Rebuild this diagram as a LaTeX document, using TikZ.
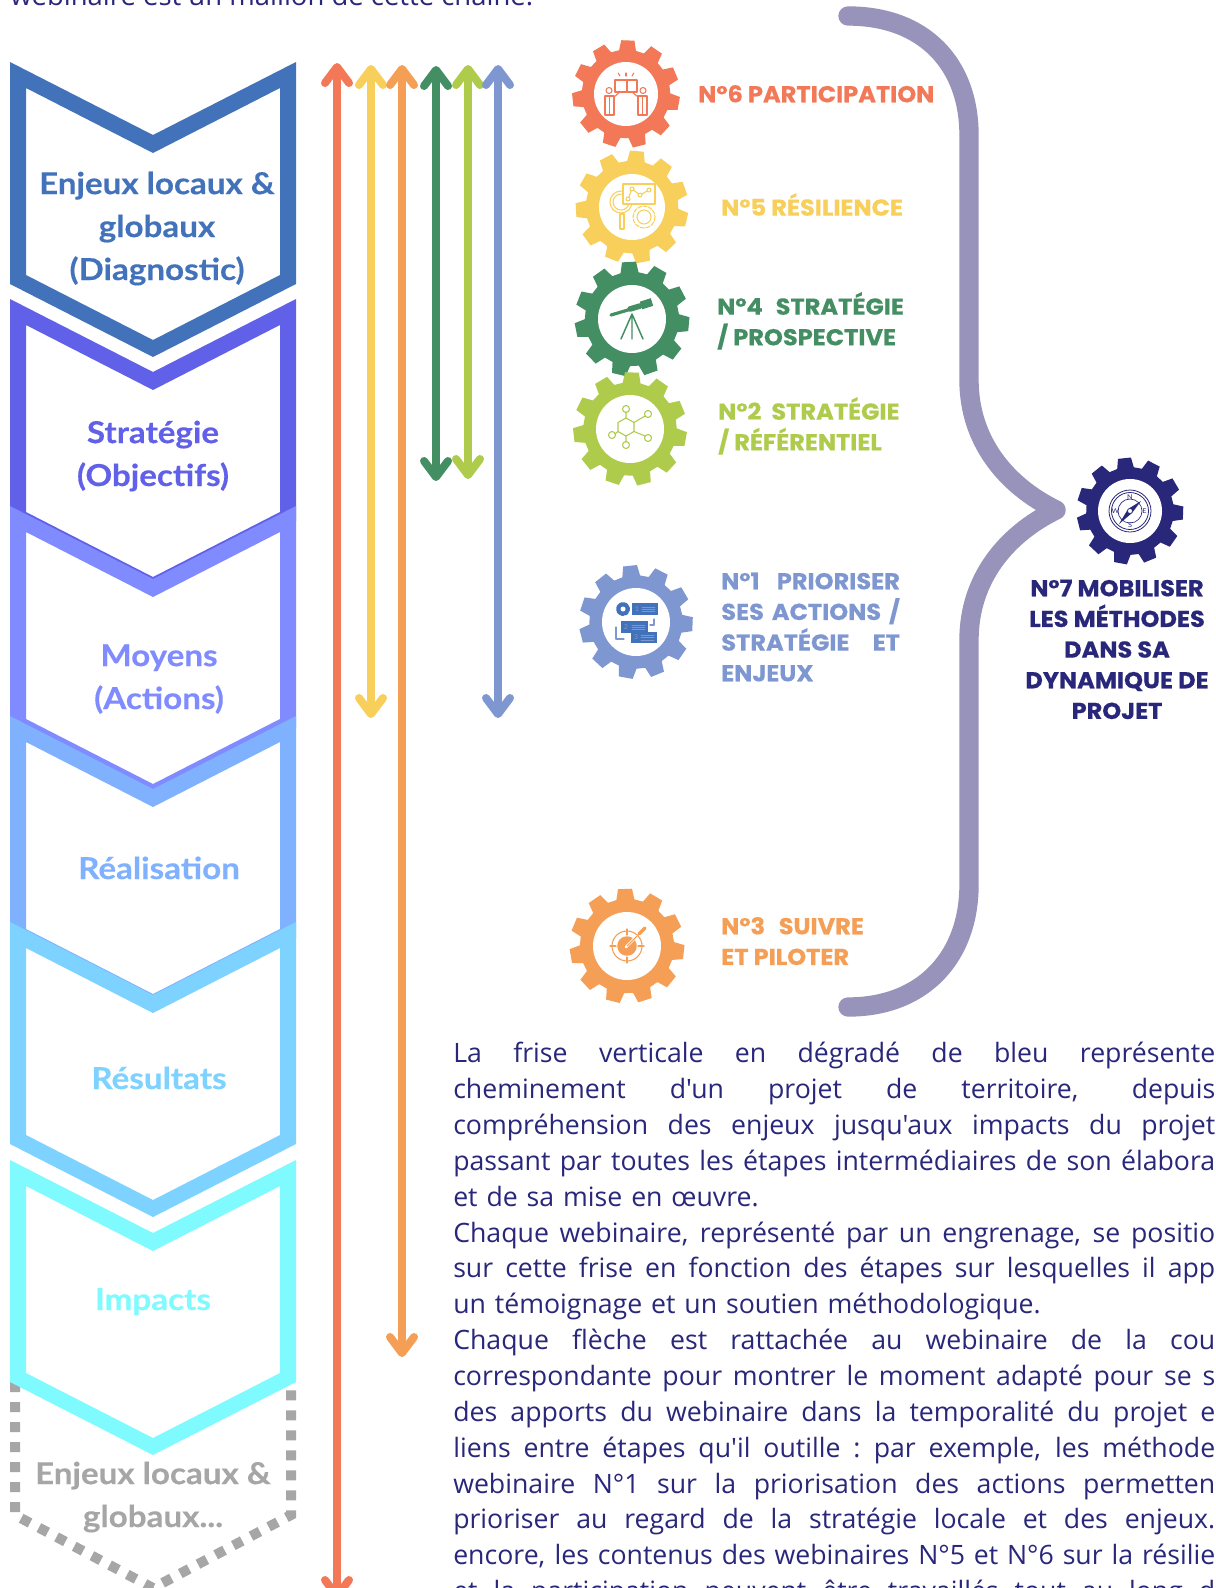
\documentclass[tikz,border=0pt]{standalone}
\usepackage{fontspec}
\setmainfont[FakeStretch=1.1,BoldFeatures={FakeBold=0.3}]{Lato}
\newfontfamily\bodyfont{Open Sans}
\newfontfamily\gearfont[FakeStretch=1.05,BoldFeatures={FakeBold=0.5}]{Poppins}
\usetikzlibrary{arrows.meta}
\definecolor{navy}{HTML}{29277A}
\definecolor{bracecol}{HTML}{9793BB}
\definecolor{rouge}{HTML}{F27858}
\definecolor{jaune}{HTML}{F8CF5B}
\definecolor{orange2}{HTML}{F59E55}
\definecolor{vert}{HTML}{448E63}
\definecolor{lime2}{HTML}{AECB4C}
\definecolor{bleu}{HTML}{7F97D0}
\definecolor{fA}{HTML}{4272BA}
\definecolor{fB}{HTML}{6160E8}
\definecolor{fC}{HTML}{7F8BFF}
\definecolor{fD}{HTML}{7FB1FF}
\definecolor{fE}{HTML}{7DD2FF}
\definecolor{fF}{HTML}{7FFBFF}
\definecolor{gris}{HTML}{A6A6A6}
\tikzset{
 fleche/.style={line width=6pt,line cap=round,{Straight Barb[round,length=12pt,width=18pt,line width=6pt]}-{Straight Barb[round,length=12pt,width=18pt,line width=6pt]}},
 etape/.style={font=\fontsize{22.6}{32.2}\selectfont\bfseries,align=center,inner sep=0pt,anchor=base},
 gearlab/.style={font=\gearfont\fontsize{17.2}{23}\selectfont\bfseries,align=left,inner sep=0pt,anchor=north west},
 hole/.style={circle,fill=white,inner sep=0pt},
 icon/.style={line width=0.8pt,line cap=round,line join=round},
 mini/.style={font=\fontsize{5}{5}\selectfont,inner sep=0pt}
}
\newcommand{\frisestep}[2]{\fill[#1,even odd rule] (10,#2) -- (153,#2+73) -- (296,#2) -- (296,#2+222) -- (153,#2+295) -- (10,#2+222) -- cycle
 (26,#2+26) -- (153,#2+91) -- (280,#2+26) -- (280,#2+213) -- (153,#2+278) -- (26,#2+213) -- cycle;}
\newcommand{\gearwheel}[7]{\fill[#7] (#2,#3) ++(-#6-11:0.82*#4) \foreach \i [evaluate=\i as \a using -#6+\i*360/11] in {0,...,10} {
 -- ([shift={(#2,#3)}]\a-11:0.82*#4) -- ([shift={(#2,#3)}]\a-7:#4) -- ([shift={(#2,#3)}]\a+7:#4) -- ([shift={(#2,#3)}]\a+11:0.82*#4)} -- cycle;
 \node[hole,minimum size=#5*1.5pt] (#1) at (#2,#3) {};}
\newcommand{\lstr}{\vrule height 15pt width 0pt}
\newcommand{\bline}[1]{\hbox to 571.5pt{\spaceskip=.26em plus 1fil minus .08em\relax #1}}
\newcommand{\nline}[1]{\hbox to 571.5pt{#1\hfil}}

\begin{document}
\begin{tikzpicture}[x=0.75pt,y=-0.75pt]
\path[use as bounding box,clip] (0,0) rectangle (1215,1588);
\fill[white] (0,0) rectangle (1215,1588);

% top line of text
\node[anchor=base west,inner sep=0pt,text=navy,font=\bodyfont\fontsize{20.6}{26.9}\selectfont] (haut) at (10,6) {webinaire est un maillon de cette chaîne.};

% frise
\draw[gris,line width=7.5pt,dash pattern=on 7.5pt off 7.5pt] (15,1382) -- (15,1515) -- (153,1588) -- (291,1515) -- (291,1382);
\frisestep{fA}{62}
\frisestep{fB}{299}
\frisestep{fC}{506}
\frisestep{fD}{716}
\frisestep{fE}{922}
\frisestep{fF}{1160}
\node[etape,text=fA] (enjeux) at (157,280) {Enjeux locaux \&\\globaux\\(Diagnostic)};
\node[etape,text=fB] (strategie) at (153,486) {Stratégie\\(Objectifs)};
\node[etape,text=fC] (moyens) at (159,709) {Moyens\\(Actions)};
\node[etape,text=fD] (realisation) at (159,879) {Réalisation};
\node[etape,text=fE] (resultats) at (159,1089) {Résultats};
\node[etape,text=fF] (impacts) at (153,1310) {Impacts};
\node[etape,text=gris] (retour) at (153,1527) {Enjeux locaux \&\\globaux...};

% fleches
\foreach \x/\ya/\yb/\c in {337/63/1600/rouge,371/65/718/jaune,402/65/1357/orange2,436/66/481/vert,468/65/479/lime2,498/65/718/bleu}{
  \coordinate (h\c) at (\x,\ya);
  \coordinate (b\c) at (\x,\yb);
  \draw[fleche,\c] (h\c) -- (b\c);
}

% accolade
\draw[bracecol,line width=14.5pt,line cap=round,line join=round] (848,16) .. controls (925,16) and (969,65) .. (969,135) -- (969,380) .. controls (969,440) and (1005,485) .. (1056,510) .. controls (1005,535) and (969,580) .. (969,640) -- (969,885) .. controls (969,955) and (925,1007) .. (848,1007);

% engrenages
\gearwheel{gsix}{626}{94}{54}{32}{88}{rouge}
\gearwheel{gcinq}{632}{207}{56.5}{33}{85}{jaune}
\gearwheel{gquatre}{632}{319}{57.5}{34}{93}{vert}
\gearwheel{gdeux}{630}{429}{57}{34}{88}{lime2}
\gearwheel{gun}{636}{622}{57}{34}{96}{bleu}
\gearwheel{gtrois}{627}{946}{57.5}{34}{92}{orange2}
\gearwheel{gsept}{1130}{511}{53.5}{32}{96}{navy}

% icones
\begin{scope}[shift={(gsix)},rouge,icon]
\draw (-11,-14) rectangle (11,-2);
\draw (1,-14) -- (1,-2);
\foreach \a in {-6,0,6}\draw (\a,-18) -- (1.3*\a,-21);
\foreach \s in {-1,1}{
 \draw (\s*17,-3.5) circle (3);
 \draw (\s*21,2) rectangle (\s*12,21);
 \draw (\s*16.5,2) -- (\s*16.5,21);
 \draw (\s*12,3) -- (\s*6,-2);
}
\end{scope}
\begin{scope}[shift={(gcinq)},jaune,icon]
\draw (-11,-5) circle (11) (-11,-5) circle (8);
\draw (-12,7) rectangle (-8,22);
\fill[white] (-9,-23) rectangle (23,-3);
\draw (-9,-23) rectangle (23,-3);
\draw (-4,-8) -- (0,-18) -- (8,-12) -- (17,-17);
\foreach \p in {(-4,-8),(0,-18),(8,-12),(17,-17)}\draw[fill=white] \p circle (2);
\draw[dash pattern=on 3pt off 1.2pt] (12,10) circle (11);
\draw (12,10) circle (7);
\end{scope}
\begin{scope}[shift={(gquatre)},vert,icon]
\draw[line width=2.4pt] (-21,-4) -- (-4,-9);
\draw[line width=4.2pt] (-2,-10) -- (8,-13);
\draw[line width=6pt,line cap=butt] (9,-13.5) -- (20,-17);
\draw[line width=1.1pt] (0,-5) -- (-11,20) (0,-5) -- (11,20) (0,-5) -- (0,20);
\end{scope}
\begin{scope}[shift={(gdeux)},lime2,icon]
\draw (-4,-11) -- (4,-6.5) -- (4,2.5) -- (-4,7) -- (-12,2.5) -- (-12,-6.5) -- cycle;
\draw (-4,-11) -- (-4,-17) (4,-6.5) -- (15,-13) (4,2.5) -- (15,7) (-4,7) -- (-4,13) (-12,2.5) -- (-15,5);
\foreach \p/\r in {(-4,-20)/3.5,(18,-15)/3.5,(18,9)/3.5,(-4,16)/3.5,(-18,6)/3.5}\draw \p circle (\r);
\end{scope}
\begin{scope}[shift={(gun)},icon]
\fill[fA] (-4,-19) rectangle (22,-7);
\fill[fA] (-15,-1) rectangle (12,11);
\fill[fA] (-5,10) rectangle (21,21);
\draw[fA,line width=3.2pt,dash pattern=on 1.8pt off 1.2pt] (-13,-13) circle (5);
\fill[fA] (-13,-13) circle (4.3);
\fill[white] (-13,-13) circle (2.5);
\node[mini,text=bleu] (un) at (1,-13) {1};
\node[mini,text=bleu] (deux) at (-10,5) {2};
\node[mini,text=bleu] (trois) at (0,15.5) {3};
\foreach \y in {-15,-13,-11}\draw[bleu,line width=0.4pt] (6,\y) -- (19,\y);
\foreach \y in {3,5,7}\draw[bleu,line width=0.4pt] (-4,\y) -- (9,\y);
\foreach \y in {13,15.5,18}\draw[bleu,line width=0.4pt] (5,\y) -- (18,\y);
\draw[bleu] (-20,5) -- (-20,17) -- (-12,17) (18,-3) -- (18,3) -- (14,3);
\end{scope}
\begin{scope}[shift={(gtrois)},orange2,icon]
\draw (0,0) circle (15);
\draw[line width=3.4pt] (0,0) circle (7.5);
\fill (0,0) circle (6);
\draw (-17,0) -- (-11,0) (11,0) -- (17,0) (0,-17) -- (0,-11) (0,11) -- (0,17);
\draw[white,line width=2pt] (-1,1) -- (10,-10);
\draw (0,0) -- (12,-12);
\draw[line width=2.6pt] (12,-12) -- (18,-18);
\end{scope}
\begin{scope}[shift={(gsept)},navy,icon]
\draw[line width=0.6pt] (0,0) circle (21) (0,0) circle (18.5);
\draw[line width=0.5pt] (0,0) circle (12);
\fill (-11,13) -- (-2,-2) -- (2,2) -- cycle;
\fill (11,-10) -- (-2,-2) -- (2,2) -- cycle;
\draw[fill=white,line width=0.5pt] (0,0) circle (2.5);
\node[mini] (nord) at (0,-14) {N};
\node[mini] (sud) at (0,14.5) {S};
\node[mini] (est) at (14.5,0) {E};
\node[mini] (ouest) at (-14.5,0) {W};
\end{scope}

% libelles
\node[gearlab,text=rouge] (lsix) at (698,82) {\lstr N°6 PARTICIPATION};
\node[gearlab,text=jaune] (lcinq) at (721,193) {\lstr N°5 RÉSILIENCE};
\node[gearlab,text=vert] (lquatre) at (717,292) {\makebox[140pt][s]{\lstr N°4 STRATÉGIE}\\/ PROSPECTIVE};
\node[gearlab,text=lime2] (ldeux) at (718,397) {\makebox[136pt][s]{\lstr N°2 STRATÉGIE}\\/ RÉFÉRENTIEL};
\node[gearlab,text=bleu] (lun) at (721,569) {\makebox[134pt][s]{\lstr N°1 PRIORISER}\\\makebox[134pt][s]{SES ACTIONS /}\\\makebox[134pt][s]{STRATÉGIE ET}\\ENJEUX};
\node[gearlab,text=orange2] (ltrois) at (721,914) {\makebox[107pt][s]{\lstr N°3 SUIVRE}\\ET PILOTER};
\node[gearlab,text=navy,anchor=north,align=center] (lsept) at (1117,576) {\lstr N°7 MOBILISER\\LES MÉTHODES\\DANS SA\\DYNAMIQUE DE\\PROJET};

% texte
\node[anchor=north west,inner sep=0pt,text width=571.5pt,text=navy,font=\bodyfont\fontsize{20}{26.9}\selectfont] (texte) at (453,1042) {%
\bline{\vrule height 14pt width 0pt La frise verticale en dégradé de bleu représente}
\bline{cheminement d'un projet de territoire, depuis}
\bline{compréhension des enjeux jusqu'aux impacts du projet}
\bline{passant par toutes les étapes intermédiaires de son élabora}
\nline{et de sa mise en œuvre.}
\bline{Chaque webinaire, représenté par un engrenage, se positio}
\bline{sur cette frise en fonction des étapes sur lesquelles il app}
\nline{un témoignage et un soutien méthodologique.}
\bline{Chaque flèche est rattachée au webinaire de la cou}
\bline{correspondante pour montrer le moment adapté pour se s}
\bline{des apports du webinaire dans la temporalité du projet e}
\bline{liens entre étapes qu'il outille : par exemple, les méthode}
\bline{webinaire N°1 sur la priorisation des actions permetten}
\bline{prioriser au regard de la stratégie locale et des enjeux.}
\bline{encore, les contenus des webinaires N°5 et N°6 sur la résilie}
\bline{et la participation peuvent être travaillés tout au long d}
};
\end{tikzpicture}
\end{document}
